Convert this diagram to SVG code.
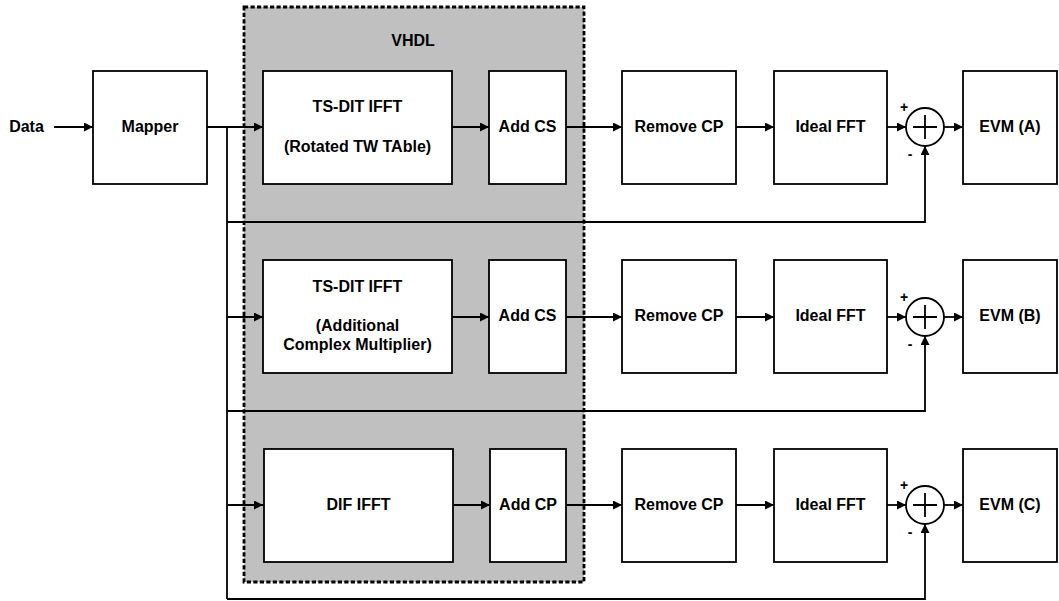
<svg xmlns="http://www.w3.org/2000/svg" width="1059" height="601" viewBox="0 0 1059 601">
<defs>
<marker id="ah" viewBox="0 0 10 10" refX="10" refY="5" markerWidth="10" markerHeight="9" markerUnits="userSpaceOnUse" orient="auto">
<path d="M0,0 L10,5 L0,10 z" fill="#000"/>
</marker>
</defs>
<style>
.box{fill:#fff;stroke:#000;stroke-width:1.8}
.t{font-family:"Liberation Sans",Arial,sans-serif;font-weight:bold;font-size:16px;fill:#000;text-anchor:middle}
.s{font-family:"Liberation Sans",Arial,sans-serif;font-weight:bold;font-size:14px;fill:#000;text-anchor:middle}
.c{fill:none;stroke:#000;stroke-width:1.8}
.a{fill:none;stroke:#000;stroke-width:1.8;marker-end:url(#ah)}
.sum{fill:#fff;stroke:#000;stroke-width:1.8}
</style>
<g id="vhdl">
<rect x="244" y="7" width="340" height="575" fill="#c0c0c0" stroke="#000" stroke-width="2.8" stroke-dasharray="4.2,2.3"/>
<text class="t" x="413" y="46">VHDL</text>
</g>
<g id="connectors">
<line class="a" x1="54" y1="127" x2="93" y2="127"/>
<line class="a" x1="207" y1="127" x2="263" y2="127"/>
<line class="c" x1="227" y1="127" x2="227" y2="599"/>
<line class="a" x1="227" y1="317" x2="263" y2="317"/>
<line class="a" x1="227" y1="505" x2="263" y2="505"/>
<line class="a" x1="452" y1="127" x2="489" y2="127"/>
<line class="a" x1="566" y1="127" x2="622" y2="127"/>
<line class="a" x1="736" y1="127" x2="774" y2="127"/>
<line class="a" x1="887" y1="127" x2="906" y2="127"/>
<line class="a" x1="944" y1="127" x2="963" y2="127"/>
<polyline class="a" points="227,222 925,222 925,146"/>
<line class="a" x1="452" y1="317" x2="489" y2="317"/>
<line class="a" x1="566" y1="317" x2="622" y2="317"/>
<line class="a" x1="736" y1="317" x2="774" y2="317"/>
<line class="a" x1="887" y1="317" x2="906" y2="317"/>
<line class="a" x1="944" y1="317" x2="963" y2="317"/>
<polyline class="a" points="227,411 925,411 925,336"/>
<line class="a" x1="453" y1="505" x2="490" y2="505"/>
<line class="a" x1="566" y1="505" x2="622" y2="505"/>
<line class="a" x1="736" y1="505" x2="774" y2="505"/>
<line class="a" x1="887" y1="505" x2="906" y2="505"/>
<line class="a" x1="944" y1="505" x2="963" y2="505"/>
<polyline class="a" points="227,599 925,599 925,524"/>
</g>
<g id="data"><text class="t" x="26.5" y="132">Data</text></g>
<g id="mapper"><rect class="box" x="93" y="71" width="114" height="113"/><text class="t" x="150" y="132">Mapper</text></g>
<g id="ifft1"><rect class="box" x="263" y="71" width="189" height="113"/><text class="t" x="357.5" y="112">TS-DIT IFFT</text><text class="t" x="357.5" y="152">(Rotated TW TAble)</text></g>
<g id="addcs1"><rect class="box" x="489" y="71" width="77" height="113"/><text class="t" x="527.5" y="132">Add CS</text></g>
<g id="rmcp1"><rect class="box" x="622" y="71" width="114" height="113"/><text class="t" x="679" y="132">Remove CP</text></g>
<g id="fft1"><rect class="box" x="774" y="71" width="113" height="113"/><text class="t" x="830.5" y="132">Ideal FFT</text></g>
<g id="sum1"><circle class="sum" cx="925" cy="127" r="19"/><path class="c" d="M913,127 H937 M925,115 V139"/><text class="s" x="904" y="112">+</text><text class="s" x="910" y="159">-</text></g>
<g id="evm1"><rect class="box" x="963" y="71" width="94" height="113"/><text class="t" x="1010" y="132">EVM (A)</text></g>
<g id="ifft2"><rect class="box" x="263" y="260" width="189" height="113"/><text class="t" x="357.5" y="292">TS-DIT IFFT</text><text class="t" x="357.5" y="331">(Additional</text><text class="t" x="357.5" y="350">Complex Multiplier)</text></g>
<g id="addcs2"><rect class="box" x="489" y="260" width="77" height="113"/><text class="t" x="527.5" y="321">Add CS</text></g>
<g id="rmcp2"><rect class="box" x="622" y="260" width="114" height="113"/><text class="t" x="679" y="321">Remove CP</text></g>
<g id="fft2"><rect class="box" x="774" y="260" width="113" height="113"/><text class="t" x="830.5" y="321">Ideal FFT</text></g>
<g id="sum2"><circle class="sum" cx="925" cy="317" r="19"/><path class="c" d="M913,317 H937 M925,305 V329"/><text class="s" x="904" y="302">+</text><text class="s" x="910" y="349">-</text></g>
<g id="evm2"><rect class="box" x="963" y="260" width="94" height="113"/><text class="t" x="1010" y="321">EVM (B)</text></g>
<g id="ifft3"><rect class="box" x="264" y="449" width="189" height="113"/><text class="t" x="358.5" y="510">DIF IFFT</text></g>
<g id="addcp3"><rect class="box" x="490" y="449" width="76" height="113"/><text class="t" x="528" y="510">Add CP</text></g>
<g id="rmcp3"><rect class="box" x="622" y="449" width="114" height="113"/><text class="t" x="679" y="510">Remove CP</text></g>
<g id="fft3"><rect class="box" x="774" y="449" width="113" height="113"/><text class="t" x="830.5" y="510">Ideal FFT</text></g>
<g id="sum3"><circle class="sum" cx="925" cy="505" r="19"/><path class="c" d="M913,505 H937 M925,493 V517"/><text class="s" x="904" y="490">+</text><text class="s" x="910" y="537">-</text></g>
<g id="evm3"><rect class="box" x="963" y="449" width="94" height="113"/><text class="t" x="1010" y="510">EVM (C)</text></g>
</svg>
